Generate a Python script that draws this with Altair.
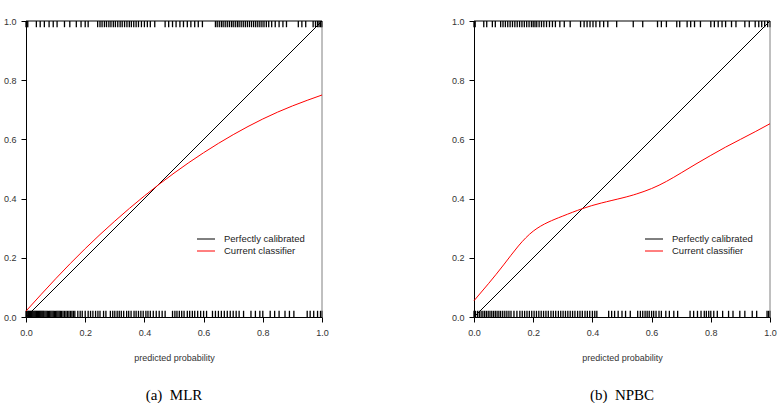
import altair as alt
import pandas as pd

# ---------------- data ----------------
tick_values = [0.0, 0.2, 0.4, 0.6, 0.8, 1.0]
diag_x = [0.0, 1.0]
diag_y = [0.0, 1.0]

mlr_curve_x = [0.0, 0.1, 0.2, 0.3, 0.4, 0.5, 0.6, 0.7, 0.8, 0.9, 1.0]
mlr_curve_y = [0.02, 0.129, 0.231, 0.324, 0.409, 0.486, 0.555, 0.616, 0.669, 0.713, 0.75]

npbc_curve_x = [0.0, 0.05, 0.1, 0.15, 0.2, 0.25, 0.3, 0.366, 0.43, 0.5, 0.55, 0.6,
                0.65, 0.7, 0.75, 0.8, 0.85, 0.9, 0.95, 1.0]
npbc_curve_y = [0.055, 0.114, 0.176, 0.24, 0.29, 0.32, 0.341, 0.366, 0.385, 0.402, 0.416, 0.434,
                0.458, 0.487, 0.517, 0.546, 0.574, 0.6, 0.626, 0.653]

mlr_pos = [0.0, 0.003, 0.006, 0.035, 0.048, 0.062, 0.078, 0.092, 0.105, 0.13, 0.148, 0.17,
           0.186, 0.2, 0.21, 0.242, 0.25, 0.257, 0.265, 0.272, 0.28, 0.287, 0.295, 0.302,
           0.31, 0.318, 0.325, 0.333, 0.341, 0.349, 0.356, 0.364, 0.372, 0.38, 0.39, 0.4,
           0.41, 0.42, 0.435, 0.47, 0.482, 0.495, 0.507, 0.52, 0.532, 0.545, 0.557, 0.57,
           0.582, 0.596, 0.64, 0.646, 0.653, 0.66, 0.666, 0.673, 0.68, 0.687, 0.694, 0.7,
           0.707, 0.714, 0.72, 0.727, 0.734, 0.741, 0.748, 0.755, 0.762, 0.769, 0.776, 0.783,
           0.79, 0.797, 0.804, 0.812, 0.82, 0.83, 0.842, 0.855, 0.868, 0.88, 0.92, 0.932,
           0.945, 0.97, 0.978, 0.985, 0.99, 0.995, 0.998, 1.0]

mlr_neg = [0.0, 0.003, 0.006, 0.009, 0.012, 0.015, 0.018, 0.021, 0.024, 0.027, 0.03, 0.033,
           0.036, 0.039, 0.042, 0.045, 0.048, 0.051, 0.054, 0.057, 0.06, 0.064, 0.068, 0.072,
           0.076, 0.08, 0.084, 0.088, 0.092, 0.096, 0.1, 0.104, 0.108, 0.112, 0.116, 0.12,
           0.125, 0.13, 0.135, 0.14, 0.145, 0.15, 0.155, 0.16, 0.165, 0.175, 0.183, 0.19,
           0.2, 0.21, 0.218, 0.226, 0.235, 0.243, 0.25, 0.262, 0.27, 0.285, 0.293, 0.3,
           0.308, 0.315, 0.322, 0.33, 0.34, 0.347, 0.355, 0.365, 0.372, 0.38, 0.388, 0.396,
           0.405, 0.412, 0.42, 0.43, 0.44, 0.45, 0.46, 0.47, 0.495, 0.503, 0.51, 0.518,
           0.526, 0.534, 0.545, 0.553, 0.562, 0.57, 0.58, 0.59, 0.6, 0.61, 0.63, 0.64, 0.65,
           0.66, 0.67, 0.68, 0.69, 0.7, 0.71, 0.72, 0.735, 0.76, 0.775, 0.79, 0.8, 0.825,
           0.84, 0.855, 0.875, 0.89, 0.905, 0.95, 0.96, 0.972, 0.985, 0.995, 1.0]

npbc_pos = [0.0, 0.004, 0.033, 0.043, 0.062, 0.072, 0.09, 0.098, 0.106, 0.114, 0.122, 0.13,
            0.138, 0.146, 0.154, 0.162, 0.17, 0.178, 0.186, 0.194, 0.2, 0.206, 0.212, 0.22,
            0.228, 0.236, 0.245, 0.255, 0.265, 0.275, 0.29, 0.305, 0.325, 0.36, 0.372, 0.382,
            0.392, 0.402, 0.412, 0.425, 0.438, 0.452, 0.482, 0.538, 0.57, 0.62, 0.633, 0.65,
            0.685, 0.695, 0.72, 0.732, 0.745, 0.765, 0.8, 0.812, 0.825, 0.838, 0.85, 0.87,
            0.885, 0.915, 0.93, 0.95, 0.962, 0.972, 0.982, 0.992, 1.0]

npbc_neg = [0.0, 0.005, 0.012, 0.018, 0.024, 0.03, 0.036, 0.042, 0.048, 0.054, 0.06, 0.066,
            0.072, 0.078, 0.084, 0.09, 0.097, 0.104, 0.111, 0.118, 0.125, 0.135, 0.145, 0.155,
            0.163, 0.171, 0.179, 0.187, 0.195, 0.203, 0.211, 0.219, 0.227, 0.235, 0.243, 0.251,
            0.26, 0.268, 0.276, 0.285, 0.293, 0.301, 0.309, 0.317, 0.325, 0.333, 0.341, 0.35,
            0.358, 0.366, 0.375, 0.383, 0.391, 0.4, 0.408, 0.415, 0.455, 0.465, 0.475, 0.487,
            0.5, 0.512, 0.528, 0.553, 0.562, 0.57, 0.578, 0.585, 0.592, 0.6, 0.607, 0.615,
            0.625, 0.633, 0.648, 0.66, 0.675, 0.688, 0.73, 0.742, 0.755, 0.767, 0.778, 0.785,
            0.793, 0.8, 0.81, 0.822, 0.84, 0.86, 0.875, 0.898, 0.915, 0.94, 0.955, 0.99, 0.995,
            1.0]

series_names = ["Perfectly calibrated", "Current classifier"]
series_colors = ["#000000", "#ff0000"]

SANS = "Liberation Sans"
SERIF = "Liberation Serif"
RUG = 0.021
LEG_ROWS = [218, 230]


def panel(cx, cy, pos, neg, caption):
    xs = alt.Scale(domain=[0, 1], nice=False, zero=False)
    ys = alt.Scale(domain=[0, 1], nice=False, zero=False)
    xaxis = alt.Axis(values=tick_values, format=".1f", title="predicted probability",
                     grid=False, tickSize=5, labelPadding=6, titlePadding=16,
                     labelFlush=False, labelOverlap=False)
    yaxis = alt.Axis(values=tick_values, format=".1f", title=None, grid=False,
                     tickSize=5, labelPadding=5, labelFlush=False, labelOverlap=False)

    diag = alt.Chart(pd.DataFrame({"x": diag_x, "y": diag_y})).mark_line(
        color=series_colors[0], strokeWidth=1).encode(
        x=alt.X("x:Q", scale=xs, axis=xaxis),
        y=alt.Y("y:Q", scale=ys, axis=yaxis),
    )
    curve = alt.Chart(pd.DataFrame({"x": cx, "y": cy})).mark_line(
        color=series_colors[1], strokeWidth=1, interpolate="natural").encode(
        x=alt.X("x:Q", scale=xs), y=alt.Y("y:Q", scale=ys))

    top = pd.DataFrame({"x": pos, "y": [1.0] * len(pos), "y2": [1.0 - RUG] * len(pos)})
    bot = pd.DataFrame({"x": neg, "y": [0.0] * len(neg), "y2": [RUG] * len(neg)})
    rug_top = alt.Chart(top).mark_rule(color="black", strokeWidth=1.3).encode(
        x=alt.X("x:Q", scale=xs), y=alt.Y("y:Q", scale=ys), y2="y2:Q")
    rug_bot = alt.Chart(bot).mark_rule(color="black", strokeWidth=1.3).encode(
        x=alt.X("x:Q", scale=xs), y=alt.Y("y:Q", scale=ys), y2="y2:Q")

    top_line = alt.Chart(pd.DataFrame({"v": [1.0]})).mark_rule(color="black", strokeWidth=1).encode(
        y=alt.Y("v:Q", scale=ys))
    right_line = alt.Chart(pd.DataFrame({"v": [1.0]})).mark_rule(color="#808080", strokeWidth=1).encode(
        x=alt.X("v:Q", scale=xs))

    layers = [rug_top, rug_bot, top_line, right_line, diag, curve]
    # legend drawn inside the plot area
    for name, col, ypix in zip(series_names, series_colors, LEG_ROWS):
        one = pd.DataFrame({"label": [name]})
        layers.append(alt.Chart(one).mark_rule(color=col, strokeWidth=1).encode(
            x=alt.value(171), x2=alt.value(189), y=alt.value(ypix)))
        layers.append(alt.Chart(one).mark_text(align="left", baseline="middle", font=SANS,
                                               fontSize=9.5, color="#222").encode(
            x=alt.value(198), y=alt.value(ypix), text="label:N"))

    return alt.layer(*layers).properties(
        width=296, height=296,
        title=alt.TitleParams(caption, orient="bottom", anchor="middle", frame="group",
                              font=SERIF, fontSize=15, fontWeight="normal",
                              color="#000", offset=26),
    )


left = panel(mlr_curve_x, mlr_curve_y, mlr_pos, mlr_neg, "(a)\u2002MLR")
right = panel(npbc_curve_x, npbc_curve_y, npbc_pos, npbc_neg, "(b)\u2002NPBC")

chart = alt.hconcat(left, right, spacing=122).properties(
    padding={"left": 3, "top": 17, "right": 0, "bottom": 0},
    background="white",
).configure_view(stroke=None).configure_axis(
    domainColor="black", tickColor="black", domainWidth=1, tickWidth=1,
    labelFont=SANS, labelFontSize=9, labelColor="#333",
    titleFont=SANS, titleFontSize=9, titleFontWeight="normal", titleColor="#333",
)

chart.save("out.html", embed_options={"renderer": "svg", "actions": False})
